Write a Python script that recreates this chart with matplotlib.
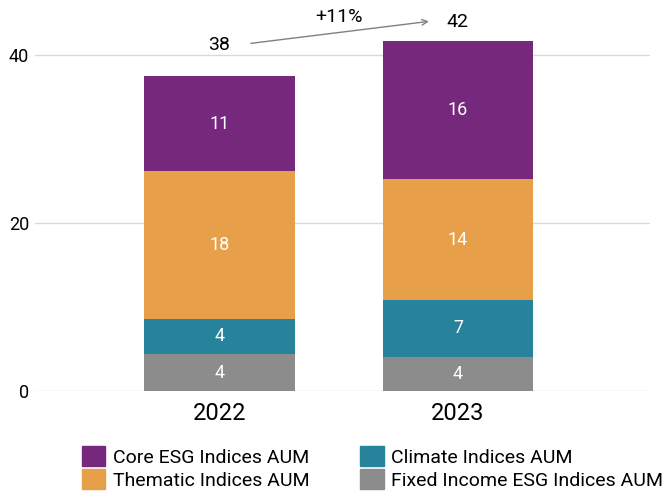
import matplotlib
matplotlib.use("Agg")
import matplotlib.pyplot as plt
from matplotlib.patches import Patch
import numpy as np

plt.rcParams['font.family'] = ['Roboto', 'DejaVu Sans']

years = ["2022", "2023"]
fixed_income = [4.4, 4.1]
climate = [4.2, 6.7]
thematic = [17.6, 14.5]
core = [11.3, 16.4]
series_names = ["Fixed Income ESG Indices AUM", "Climate Indices AUM",
                "Thematic Indices AUM", "Core ESG Indices AUM"]
series_vals = [fixed_income, climate, thematic, core]
seg_labels = [["4", "4"], ["4", "7"], ["18", "14"], ["11", "16"]]
totals = ["38", "42"]
growth = "+11%"
colors = ["#8c8c8c", "#27839c", "#e89f49", "#76287d"]

fig = plt.figure(figsize=(6.7, 4.96), dpi=100)
ax = fig.add_axes([0.052, 0.2117, 0.918, 0.778])
x = np.arange(len(years))
bottom = np.zeros(len(years))
for vals, col, labs in zip(series_vals, colors, seg_labels):
    vals = np.array(vals)
    ax.bar(x, vals, 0.63, bottom=bottom, color=col, zorder=3)
    for xi, b, v, l in zip(x, bottom, vals, labs):
        ax.text(xi, b + v / 2, l, ha='center', va='center', color='white', fontsize=13, zorder=4)
    bottom = bottom + vals

ax.set_xlim(-0.774, 1.805)
ax.set_ylim(0, 46)
ax.set_yticks([0, 20, 40])
ax.set_yticklabels(["0", "20", "40"], fontsize=13)
ax.yaxis.grid(True, color='#d9d9d9', lw=1, zorder=0)
ax.set_xticks(x)
ax.set_xticklabels(years, fontsize=17)
ax.tick_params(axis='both', length=0)
ax.tick_params(axis='x', pad=8)
ax.tick_params(axis='y', pad=4)
for s in ax.spines.values():
    s.set_visible(False)

# totals
ax.text(x[0], bottom[0] + 3.8, totals[0], ha='center', va='center', fontsize=14)
ax.text(x[1], bottom[1] + 2.3, totals[1], ha='center', va='center', fontsize=14)
ax.annotate("", xy=(x[1] - 0.11, bottom[1] + 2.4), xytext=(x[0] + 0.12, bottom[0] + 3.9),
            arrowprops=dict(arrowstyle='->', color='#808080', lw=1))
ax.text((x[0] + x[1]) / 2, bottom[1] + 2.9, growth, ha='center', va='center', fontsize=14)

handles = [Patch(color=colors[3]), Patch(color=colors[2]), Patch(color=colors[1]), Patch(color=colors[0])]
labels = [series_names[3], series_names[2], series_names[1], series_names[0]]
fig.legend(handles, labels, ncol=2, loc='upper left', bbox_to_anchor=(82 / 670, 1 - 446 / 496),
           frameon=False, fontsize=14, handlelength=1.2, handleheight=1.2, borderpad=0,
           borderaxespad=0, columnspacing=2.6, handletextpad=0.4, labelspacing=0.14)
fig.savefig("out.png", dpi=100)
